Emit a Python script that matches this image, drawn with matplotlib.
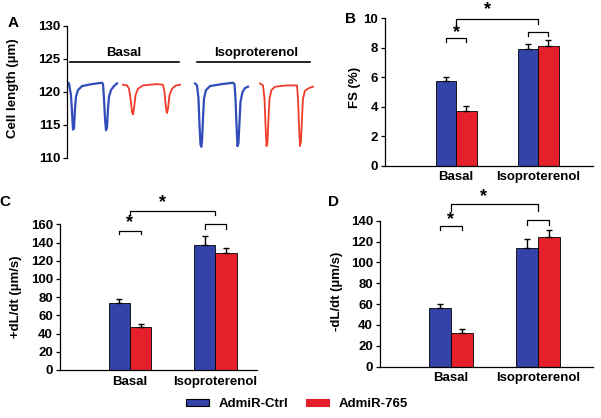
"""Four-panel cardiomyocyte contractility figure: trace panel (A) plus three bar panels (B-D)."""
import matplotlib.pyplot as plt
from matplotlib.patches import Patch

plt.rcParams["font.family"] = ["Liberation Sans", "DejaVu Sans"]
plt.rcParams["font.weight"] = "bold"
plt.rcParams["axes.labelweight"] = "bold"

W, H = 601, 418
BLUE = "#3443a8"
RED = "#e6202b"
BLUE_TR = "#2f4cba"
RED_TR = "#f03c2c"

GROUPS = ["Basal", "Isoproterenol"]
SERIES = ["AdmiR-Ctrl", "AdmiR-765"]

# panel A: representative cell-length traces (time in arbitrary units, length in um)
basal_ctrl_t = [0, 2, 4, 5, 6, 7, 8, 9, 11, 15, 25, 35, 36, 37, 38, 39, 40, 41, 42, 44, 47, 50]
basal_ctrl_len = [121.5, 121.3, 119.5, 117.0, 114.3, 114.5, 117.5, 119.3, 120.3, 120.9, 121.2, 121.4,
                  121.2, 119.0, 116.0, 114.2, 114.6, 117.5, 119.3, 120.3, 120.9, 121.3]
basal_mir_t = [56, 60, 62, 63.5, 65, 66, 67, 68.5, 71, 76, 90, 96, 97.5, 99, 100, 101, 102.5, 105, 109, 113]
basal_mir_len = [121.1, 121.0, 120.5, 119.0, 117.0, 116.6, 117.5, 119.5, 120.5, 121.0, 121.2, 121.1,
                 120.0, 117.5, 116.8, 117.5, 119.5, 120.5, 121.0, 121.1]
iso_ctrl_t = [128, 130, 131.5, 132.5, 133.5, 134.3, 135, 136, 137, 139, 143, 155, 166, 167.5, 168.5,
              169.5, 170.5, 171.5, 172.5, 173.5, 175.5, 178, 181]
iso_ctrl_len = [121.3, 121.0, 119.0, 115.0, 112.0, 111.7, 112.5, 116.0, 119.0, 120.3, 120.9, 121.2,
                121.4, 121.2, 119.0, 115.0, 111.8, 112.3, 115.5, 118.5, 120.0, 120.6, 120.8]
iso_mir_t = [193, 196, 197.5, 198.5, 199.5, 200.5, 201.5, 202.5, 204.5, 208, 220, 230, 231, 232, 233,
             234, 235, 236, 238, 242, 246]
iso_mir_len = [121.3, 121.0, 119.0, 115.0, 111.8, 112.5, 116.0, 119.0, 120.3, 120.8, 121.0, 121.0,
               119.0, 115.0, 111.8, 112.5, 116.0, 119.0, 120.2, 120.6, 120.8]

# panels B-D: mean and upper error (Basal, Isoproterenol)
fs_ctrl = [5.75, 7.95]
fs_ctrl_err = [0.28, 0.32]
fs_mir = [3.73, 8.15]
fs_mir_err = [0.3, 0.4]

plus_ctrl = [73.5, 137.0]
plus_ctrl_err = [4.5, 10.0]
plus_mir = [47.3, 129.0]
plus_mir_err = [3.7, 5.0]

minus_ctrl = [56.0, 113.4]
minus_ctrl_err = [3.8, 8.6]
minus_mir = [32.0, 124.0]
minus_mir_err = [3.8, 7.0]


def px_axes(fig, left, top, right, bottom):
    return fig.add_axes([left / W, 1 - bottom / H, (right - left) / W, (bottom - top) / H])


def bracket(ax, x0, x1, top, leg):
    ax.plot([x0, x0, x1, x1], [leg, top, top, leg], color="black", lw=0.9, clip_on=False)


def star(ax, x, y):
    ax.text(x, y, "*", ha="center", va="center", fontsize=13, fontweight="bold", clip_on=False)


def bar_panel(ax, ctrl, ctrl_err, mir, mir_err, ymax, step, xlim, marks):
    bw = 0.25
    xs = [0, 1]
    xc = [x - bw / 2 for x in xs]
    xm = [x + bw / 2 for x in xs]
    ax.bar(xc, ctrl, bw, color=BLUE, edgecolor="black", lw=0.6, zorder=2)
    ax.bar(xm, mir, bw, color=RED, edgecolor="black", lw=0.6, zorder=2)
    ax.errorbar(xc, ctrl, yerr=[[0, 0], ctrl_err], fmt="none", ecolor="black", elinewidth=1, capsize=2.5, zorder=3)
    ax.errorbar(xm, mir, yerr=[[0, 0], mir_err], fmt="none", ecolor="black", elinewidth=1, capsize=2.5, zorder=3)
    ax.set_xlim(*xlim)
    ax.set_ylim(0, ymax)
    ax.set_yticks(range(0, ymax + 1, step))
    ax.set_xticks(xs)
    ax.set_xticklabels(GROUPS, fontsize=9.5, fontweight="bold")
    ax.tick_params(axis="x", length=0, pad=4)
    ax.tick_params(axis="y", direction="out", length=3, width=0.9, labelsize=9.5, pad=2)
    for s in ("top", "right"):
        ax.spines[s].set_visible(False)
    for s in ("left", "bottom"):
        ax.spines[s].set_linewidth(0.9)

    (b_top, b_leg, b_star), (g_top, g_leg, g_star), (i_top, i_leg) = marks
    bracket(ax, xc[0], xm[0], b_top, b_leg)
    star(ax, 0, b_star)
    bracket(ax, 0, 1, g_top, g_leg)
    star(ax, 0.38, g_star)
    bracket(ax, xc[1], xm[1], i_top, i_leg)


fig = plt.figure(figsize=(W / 100, H / 100), dpi=100)

# ---- A
axA = px_axes(fig, 67, 26, 317, 158)
axA.plot(basal_ctrl_t, basal_ctrl_len, color=BLUE_TR, lw=1.6)
axA.plot(basal_mir_t, basal_mir_len, color=RED_TR, lw=1.3)
axA.plot(iso_ctrl_t, iso_ctrl_len, color=BLUE_TR, lw=1.6)
axA.plot(iso_mir_t, iso_mir_len, color=RED_TR, lw=1.3)
axA.plot([3, 112], [124.6, 124.6], color="black", lw=1.2)
axA.plot([130, 243], [124.6, 124.6], color="black", lw=1.2, clip_on=False)
axA.text(57, 125.9, "Basal", ha="center", va="center", fontsize=9.5, fontweight="bold")
axA.text(189, 125.9, "Isoproterenol", ha="center", va="center", fontsize=9.5, fontweight="bold")
axA.set_xlim(0, 250)
axA.set_ylim(110, 130)
axA.set_yticks([110, 115, 120, 125, 130])
axA.set_xticks([])
axA.tick_params(axis="y", direction="out", length=3, width=0.9, labelsize=9.5, pad=2)
for s in ("top", "right", "bottom"):
    axA.spines[s].set_visible(False)
axA.spines["left"].set_linewidth(0.9)

# ---- B
axB = px_axes(fig, 385, 18.3, 593, 165.7)
bar_panel(axB, fs_ctrl, fs_ctrl_err, fs_mir, fs_mir_err, 10, 2, (-0.866, 1.67),
          [(8.64, 8.37, 9.0), (9.93, 9.62, 10.57), (9.1, 8.82)])

# ---- C
axC = px_axes(fig, 60, 224.3, 257, 370)
bar_panel(axC, plus_ctrl, plus_ctrl_err, plus_mir, plus_mir_err, 160, 20, (-0.82, 1.49),
          [(152.5, 149, 161.7), (175, 169.7, 184), (160.6, 155)])

# ---- D
axD = px_axes(fig, 380, 220.7, 593, 366.7)
bar_panel(axD, minus_ctrl, minus_ctrl_err, minus_mir, minus_mir_err, 140, 20, (-0.81, 1.63),
          [(134.8, 131, 140.6), (155.6, 149.5, 163), (140.6, 136)])

# y labels and panel letters (pixel positions)
def ftext(x, y, s, **kw):
    fig.text(x / W, 1 - y / H, s, fontweight="bold", **kw)

ftext(13, 88, "Cell length (\u00b5m)", rotation=90, ha="center", va="center", fontsize=9.5)
ftext(355, 87, "FS (%)", rotation=90, ha="center", va="center", fontsize=9.5)
ftext(16, 297, "+dL/dt (\u00b5m/s)", rotation=90, ha="center", va="center", fontsize=9.5)
ftext(337, 291, "-dL/dt (\u00b5m/s)", rotation=90, ha="center", va="center", fontsize=9.5)
for x, y, s in [(13, 23, "A"), (351, 19, "B"), (5, 202, "C"), (334, 202, "D")]:
    ftext(x, y, s, ha="center", va="center", fontsize=11)

handles = [Patch(facecolor=BLUE, edgecolor="black", lw=0.8), Patch(facecolor=RED, edgecolor=RED, lw=0.8)]
fig.legend(handles, SERIES, loc="center", bbox_to_anchor=(297 / W, (H - 404) / H), ncol=2,
           frameon=False, handlelength=1.75, handleheight=0.38, handletextpad=0.75,
           columnspacing=1.3, prop={"size": 9.5, "weight": "bold"})

fig.savefig("out.png", dpi=100)
